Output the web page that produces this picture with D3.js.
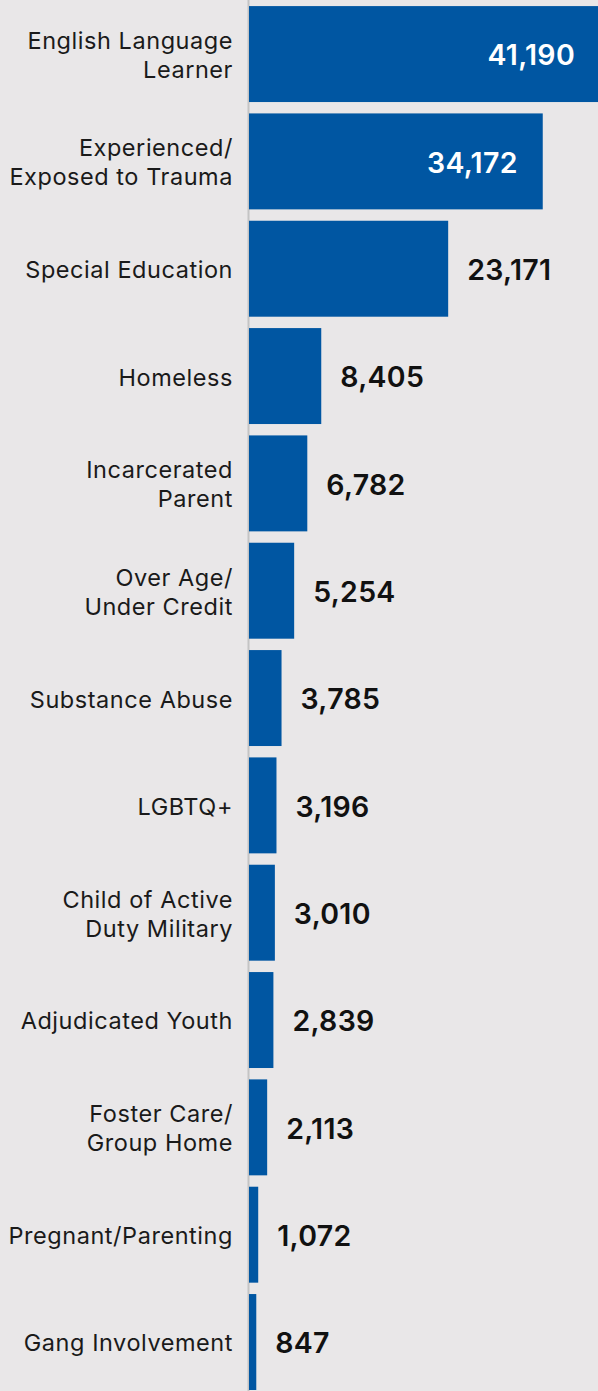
<!DOCTYPE html>
<html>
<head>
<meta charset="utf-8">
<script src="https://cdn.jsdelivr.net/npm/d3@7"></script>
<style>
  html, body { margin: 0; padding: 0; background: #e9e7e8; overflow: hidden; }
  svg { display: block; font-family: Inter, "Noto Sans", sans-serif; }
</style>
</head>
<body>
<svg id="chart"></svg>
<script>
// categories, label line breaks marked with |
var categories = [
  "English Language|Learner",
  "Experienced/|Exposed to Trauma",
  "Special Education",
  "Homeless",
  "Incarcerated|Parent",
  "Over Age/|Under Credit",
  "Substance Abuse",
  "LGBTQ+",
  "Child of Active|Duty Military",
  "Adjudicated Youth",
  "Foster Care/|Group Home",
  "Pregnant/Parenting",
  "Gang Involvement"
];
var values = [41190, 34172, 23171, 8405, 6782, 5254, 3785, 3196, 3010, 2839, 2113, 1072, 847];

var W = 598, H = 1391;
var axisX = 249;
var step = 107.33;

var data = categories.map(function(c, i){ return {cat: c, value: values[i]}; });

var svg = d3.select('#chart').attr('width', W).attr('height', H);

svg.append('rect').attr('width', W).attr('height', H).attr('fill', '#e9e7e8');

var x = d3.scaleLinear().domain([0, 40600]).range([axisX, W]);

var y = d3.scaleBand()
  .domain(categories)
  .range([0.4, 0.4 + step * categories.length])
  .paddingInner(0.106)
  .paddingOuter(0.053);

// axis line
svg.append('line')
  .attr('x1', axisX - 0.5).attr('x2', axisX - 0.5)
  .attr('y1', 0).attr('y2', H)
  .attr('stroke', '#c4c4c4').attr('stroke-width', 2);

var rows = svg.selectAll('.row').data(data).enter().append('g').attr('class', 'row');

rows.append('rect')
  .attr('x', x(0))
  .attr('y', function(d){ return y(d.cat); })
  .attr('width', function(d){ return x(d.value) - x(0); })
  .attr('height', y.bandwidth())
  .attr('fill', '#0056a2');

var fmt = d3.format(',');

rows.append('text')
  .attr('x', function(d){ return d.value > 30000 ? Math.min(x(d.value), W + 2) - 25 : x(d.value) + 19; })
  .attr('y', function(d){ return y(d.cat) + y.bandwidth() / 2 + 1; })
  .attr('dy', '0.36em')
  .attr('text-anchor', function(d){ return d.value > 30000 ? 'end' : 'start'; })
  .attr('font-size', 28.5)
  .attr('font-weight', 600)
  .attr('letter-spacing', 0.3)
  .attr('fill', function(d){ return d.value > 30000 ? '#ffffff' : '#111111'; })
  .text(function(d){ return fmt(d.value); });

// category labels
rows.each(function(d){
  var lines = d.cat.split('|');
  var cy = y(d.cat) + y.bandwidth() / 2 + 1;
  var lh = 29;
  var t = d3.select(this).append('text')
    .attr('text-anchor', 'end')
    .attr('font-size', 23.5)
    .attr('letter-spacing', 0.55)
    .attr('fill', '#1a1a1a');
  lines.forEach(function(l, i){
    t.append('tspan')
      .attr('x', 233)
      .attr('y', cy + (i - (lines.length - 1) / 2) * lh)
      .attr('dy', '0.36em')
      .text(l);
  });
});
</script>
</body>
</html>
